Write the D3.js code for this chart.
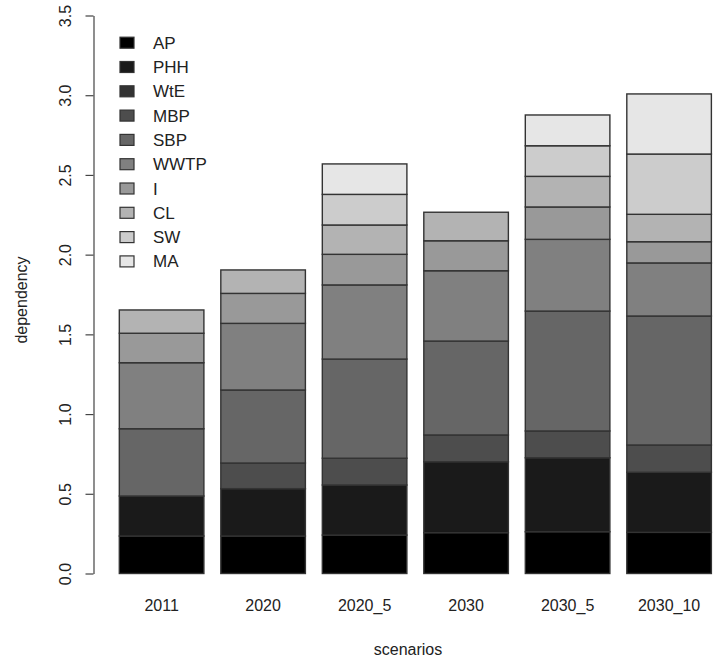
<!DOCTYPE html>
<html>
<head>
<meta charset="utf-8">
<script src="https://cdn.jsdelivr.net/npm/d3@7"></script>
<style>
  body { margin: 0; background: #fff; }
  text { font-family: "Liberation Sans", Arial, sans-serif; fill: #222; }
</style>
</head>
<body>
<div id="chart"></div>
<script>
// data
var scenarios = ["2011", "2020", "2020_5", "2030", "2030_5", "2030_10"];
var sources = ["AP", "PHH", "WtE", "MBP", "SBP", "WWTP", "I", "CL", "SW", "MA"];

var AP   = [0.235, 0.235, 0.241, 0.256, 0.262, 0.258];
var PHH  = [0.251, 0.297, 0.314, 0.445, 0.464, 0.377];
var WtE  = [0, 0, 0, 0, 0, 0];
var MBP  = [0, 0.161, 0.168, 0.168, 0.168, 0.171];
var SBP  = [0.422, 0.458, 0.622, 0.589, 0.752, 0.809];
var WWTP = [0.414, 0.418, 0.465, 0.441, 0.450, 0.333];
var I    = [0.185, 0.188, 0.192, 0.188, 0.203, 0.133];
var CL   = [0.146, 0.147, 0.184, 0.179, 0.192, 0.172];
var SW   = [0, 0, 0.192, 0, 0.192, 0.378];
var MA   = [0, 0, 0.191, 0, 0.193, 0.377];

var yTicks = [0, 0.5, 1, 1.5, 2, 2.5, 3, 3.5];

var svgWidth = 713;
var svgHeight = 658;

var svg = d3.select("#chart")
  .append("svg")
  .attr("width", svgWidth)
  .attr("height", svgHeight);

// build rows for d3.stack
var series = [AP, PHH, WtE, MBP, SBP, WWTP, I, CL, SW, MA];
var table = scenarios.map(function(s, i) {
  var row = { scenario: s };
  sources.forEach(function(k, j) { row[k] = series[j][i]; });
  return row;
});

var stacked = d3.stack().keys(sources)(table);

// grey levels 0 .. 0.9 like R's gray()
var color = d3.scaleOrdinal()
  .domain(sources)
  .range(sources.map(function(d, i) { return d3.rgb(i * 25.5, i * 25.5, i * 25.5).formatHex(); }));

var xScale = d3.scaleBand()
  .domain(scenarios)
  .range([102.4, 728.3])
  .paddingInner(1 / 6)
  .paddingOuter(1 / 6);

var yScale = d3.scaleLinear()
  .domain([0, 3.5])
  .range([573.5, 15.5]);

// stacked bars
var layers = svg.append("g")
  .selectAll("g")
  .data(stacked)
  .enter()
  .append("g")
  .attr("fill", function(d) { return color(d.key); });

layers.selectAll("rect")
  .data(function(d) { return d.filter(function(p) { return p[1] - p[0] > 0; }); })
  .enter()
  .append("rect")
  .attr("x", function(d) { return xScale(d.data.scenario); })
  .attr("y", function(d) { return yScale(d[1]); })
  .attr("width", xScale.bandwidth())
  .attr("height", function(d) { return yScale(d[0]) - yScale(d[1]); })
  .attr("stroke", "#333")
  .attr("stroke-width", 1.4);

// y axis, R style
var leftAxis = d3.axisLeft(yScale)
  .tickValues(yTicks)
  .tickFormat(d3.format(".1f"))
  .tickSize(8)
  .tickSizeOuter(0);

var yAxis = svg.append("g")
  .attr("transform", "translate(93.5, 0)")
  .call(leftAxis);

yAxis.select(".domain").attr("stroke", "#444").attr("stroke-width", 1.2);
yAxis.selectAll(".tick line").attr("stroke", "#444").attr("stroke-width", 1.2);
yAxis.selectAll(".tick text")
  .attr("x", null)
  .attr("dy", null)
  .attr("transform", "translate(-23, 0) rotate(-90)")
  .attr("text-anchor", "middle")
  .attr("font-size", "16px")
  .style("font-family", "'Liberation Sans', Arial, sans-serif")
  .attr("fill", "#222");

// x labels
svg.append("g")
  .selectAll("text")
  .data(scenarios)
  .enter()
  .append("text")
  .attr("x", function(d) { return xScale(d) + xScale.bandwidth() / 2; })
  .attr("y", 611)
  .attr("text-anchor", "middle")
  .attr("font-size", "16px")
  .text(function(d) { return d; });

// axis titles
svg.append("text")
  .attr("transform", "translate(27, 300) rotate(-90)")
  .attr("text-anchor", "middle")
  .attr("font-size", "16px")
  .text("dependency");

svg.append("text")
  .attr("x", 408)
  .attr("y", 655)
  .attr("text-anchor", "middle")
  .attr("font-size", "16px")
  .text("scenarios");

// legend
var legend = svg.append("g")
  .selectAll("g")
  .data(sources)
  .enter()
  .append("g")
  .attr("transform", function(d, i) { return `translate(120, ${42.7 + i * 24.3})`; });

legend.append("rect")
  .attr("x", 0)
  .attr("y", -5.5)
  .attr("width", 14)
  .attr("height", 11)
  .attr("fill", function(d) { return color(d); })
  .attr("stroke", "#333")
  .attr("stroke-width", 1.2);

legend.append("text")
  .attr("x", 33)
  .attr("y", 6)
  .attr("font-size", "17px")
  .text(function(d) { return d; });
</script>
</body>
</html>
